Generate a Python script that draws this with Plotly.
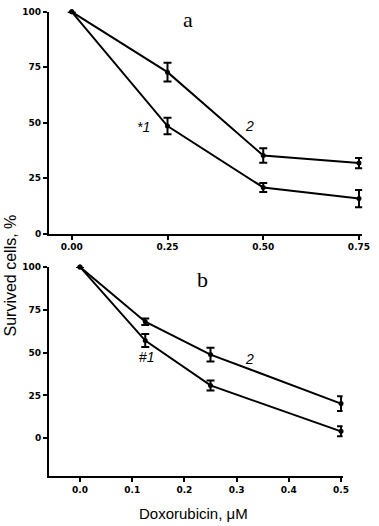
import plotly.graph_objects as go

W, H = 379, 526

# Panel a
xa = [0.0, 0.25, 0.5, 0.75]
a1 = [100, 48.5, 20.8, 15.8]
a1_err = [0, 3.7, 2.0, 3.9]
a2 = [100, 72.8, 35.2, 31.8]
a2_err = [0, 4.2, 3.3, 2.3]

# Panel b
xb = [0.0, 0.125, 0.25, 0.5]
b1 = [100, 57.0, 30.8, 4.0]
b1_err = [0, 3.8, 2.9, 2.9]
b2 = [100, 68.0, 48.8, 20.2]
b2_err = [0, 1.9, 4.0, 4.3]

xticks_a = [0.0, 0.25, 0.5, 0.75]
xticks_a_text = ["0.00", "0.25", "0.50", "0.75"]
xticks_b = [0.0, 0.1, 0.2, 0.3, 0.4, 0.5]
xticks_b_text = ["0.0", "0.1", "0.2", "0.3", "0.4", "0.5"]
yticks = [0, 25, 50, 75, 100]
yticks_text = ["0", "25", "50", "75", "100"]

fig = go.Figure()

def add(x, y, e, xa_, ya_):
    fig.add_trace(go.Scatter(
        x=x, y=y, mode="lines+markers",
        line=dict(color="black", width=2),
        marker=dict(color="black", size=5),
        error_y=dict(type="data", array=e, visible=True, color="black",
                     thickness=2, width=4),
        xaxis=xa_, yaxis=ya_, cliponaxis=False, showlegend=False))

add(xa, a1, a1_err, "x", "y")
add(xa, a2, a2_err, "x", "y")
add(xb, b1, b1_err, "x2", "y2")
add(xb, b2, b2_err, "x2", "y2")

tickfont = dict(family="DejaVu Sans", size=9, color="black")
common = dict(showline=True, linecolor="black", linewidth=2, ticks="outside",
              tickwidth=2, ticklen=4, tickcolor="black", showgrid=False,
              zeroline=False, tickfont=tickfont)

def bold(lst):
    return ["<b>%s</b>" % t for t in lst]

def px_x(p):
    return p / W

def px_y(p):
    return 1 - p / H

fig.update_layout(
    width=W, height=H, margin=dict(l=0, r=0, t=0, b=0),
    plot_bgcolor="white", paper_bgcolor="white",
    xaxis=dict(domain=[px_x(50), px_x(370)], range=[-0.0596, 0.7584],
               tickvals=xticks_a, ticktext=bold(xticks_a_text), anchor="y", **common),
    yaxis=dict(domain=[px_y(233), px_y(7)], range=[0, 100], tickvals=yticks,
               ticktext=bold(yticks_text), anchor="x", **common),
    xaxis2=dict(domain=[px_x(50), px_x(350)], range=[-0.0594, 0.503],
                tickvals=xticks_b, ticktext=bold(xticks_b_text), anchor="y2", **common),
    yaxis2=dict(domain=[px_y(480), px_y(267)], range=[-22, 100], tickvals=yticks,
                ticktext=bold(yticks_text), anchor="x2", **common),
)

def ann(text, x, y, size, family="Liberation Sans, Arial", angle=0, yanchor="middle"):
    fig.add_annotation(text=text, x=px_x(x), y=px_y(y), xref="paper", yref="paper",
                       showarrow=False, textangle=angle, xanchor="center",
                       yanchor=yanchor, font=dict(family=family, size=size, color="black"))

ann("a", 192, 0, 22, family="Liberation Serif, Times New Roman", yanchor="top")
ann("<i>*1</i>", 147, 124, 14)
ann("<i>2</i>", 255, 123, 14)
ann("b", 207, 280, 22, family="Liberation Serif, Times New Roman")
ann("#<i>1</i>", 150, 359, 14)
ann("<i>2</i>", 255, 361, 14)
ann("Survived cells, %", 11, 276, 16, angle=-90)
ann("Doxorubicin, μM", 198, 518, 15)

fig.write_html("out.html", config={"displayModeBar": False},
               post_script="document.body.style.margin='0';document.body.style.overflow='hidden';")
